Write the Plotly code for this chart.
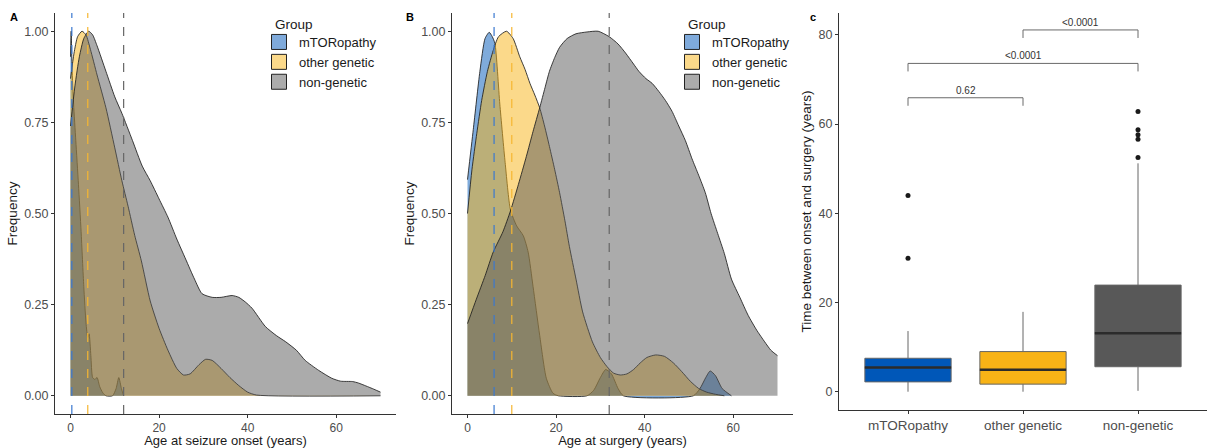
import plotly.graph_objects as go

# ---------------- DATA ----------------
groups = ["mTORopathy", "other genetic", "non-genetic"]

# Panel A: scaled density of age at seizure onset
onset_mtor_x = [0, 0.15, 0.35, 0.7, 1.2, 1.8, 2.4, 3.0, 3.5, 3.9, 4.2, 4.6, 5.0, 5.5, 6.0, 6.6, 7.3, 8.0, 9.5, 10.3, 10.9, 11.5, 12.0]
onset_mtor_y = [0.93, 1.0, 0.9, 0.8, 0.7, 0.58, 0.45, 0.3, 0.2, 0.16, 0.17, 0.11, 0.05, 0.045, 0.05, 0.025, 0.008, 0, 0, 0.02, 0.05, 0.02, 0]
onset_other_x = [0, 0.8, 1.6, 2.6, 3.5, 4.5, 6, 8, 10, 11.6, 13, 14.5, 16, 18, 20, 22, 24, 25.5, 27, 29, 30.5, 32, 34, 36, 38, 40, 42, 70]
onset_other_y = [0.87, 0.94, 0.985, 1.0, 0.99, 0.95, 0.88, 0.79, 0.68, 0.59, 0.52, 0.44, 0.37, 0.26, 0.185, 0.125, 0.075, 0.057, 0.06, 0.085, 0.1, 0.097, 0.075, 0.05, 0.028, 0.01, 0.002, 0]
onset_non_x = [0, 1, 2, 3, 4.1, 5, 6, 8, 10, 11.6, 14, 16.2, 18, 20, 22, 24, 26, 28, 29.7, 32, 34, 36.5, 38, 39.5, 41, 44, 46.5, 48.6, 51, 53, 56, 59, 61, 63.7, 65, 66.7, 68.5, 70]
onset_non_y = [0.74, 0.85, 0.93, 0.98, 1.0, 0.99, 0.96, 0.89, 0.82, 0.775, 0.70, 0.63, 0.59, 0.54, 0.49, 0.43, 0.375, 0.32, 0.28, 0.27, 0.27, 0.275, 0.27, 0.257, 0.24, 0.19, 0.165, 0.148, 0.125, 0.097, 0.07, 0.048, 0.04, 0.039, 0.035, 0.027, 0.018, 0.01]
onset_medians = [0.3, 3.9, 12.0]

# Panel B: scaled density of age at surgery
surg_mtor_x = [0, 1.3, 2.8, 3.96, 4.9, 5.6, 6.2, 7.3, 8.5, 9.7, 11.1, 12.6, 13.7, 14.8, 16.3, 17.8, 19.3, 20.5, 27, 28.5, 30, 31.2, 32.5, 34, 35.2, 51, 52.5, 53.8, 54.8, 56, 57.5, 59.6]
surg_mtor_y = [0.593, 0.73, 0.89, 0.98, 0.997, 0.985, 0.966, 0.80, 0.64, 0.51, 0.466, 0.439, 0.394, 0.30, 0.166, 0.048, 0.007, 0, 0, 0.015, 0.05, 0.072, 0.06, 0.02, 0, 0, 0.02, 0.05, 0.068, 0.055, 0.02, 0]
surg_other_x = [0, 1, 2.1, 3.2, 4.5, 5.8, 7, 8.8, 10.3, 11.8, 13, 14.1, 15.2, 16.3, 17.4, 18.5, 19.7, 20.8, 22, 23, 24.5, 26, 28.2, 30, 31.5, 33, 34.5, 36, 37.5, 39, 40.5, 42.5, 44.5, 46.5, 48.4, 50.3, 52.2, 54, 56, 58]
surg_other_y = [0.50, 0.62, 0.72, 0.81, 0.89, 0.947, 0.985, 1.0, 0.98, 0.93, 0.895, 0.857, 0.825, 0.79, 0.74, 0.684, 0.62, 0.557, 0.48, 0.41, 0.32, 0.23, 0.148, 0.105, 0.08, 0.062, 0.057, 0.06, 0.072, 0.09, 0.105, 0.112, 0.108, 0.09, 0.066, 0.04, 0.02, 0.01, 0.004, 0]
surg_non_x = [0, 2, 4, 5.8, 8, 9.7, 11.5, 13.3, 14.8, 16.3, 17.5, 18.5, 19.7, 20.8, 22.5, 24.5, 27, 29.5, 32, 34, 35.7, 37.5, 38.7, 40.3, 41.7, 43.2, 44.7, 46.2, 47.7, 49.2, 50.7, 52.2, 53.7, 55, 56.5, 58, 59.6, 61.5, 63.4, 65.3, 67.1, 68.5, 70]
surg_non_y = [0.198, 0.265, 0.33, 0.394, 0.45, 0.507, 0.58, 0.657, 0.725, 0.79, 0.845, 0.89, 0.928, 0.956, 0.98, 0.993, 0.998, 1.0, 0.985, 0.965, 0.94, 0.91, 0.89, 0.87, 0.857, 0.835, 0.81, 0.78, 0.74, 0.70, 0.65, 0.605, 0.557, 0.50, 0.445, 0.39, 0.32, 0.27, 0.22, 0.18, 0.148, 0.125, 0.11]
surg_medians = [6.0, 10.0, 32.0]

# Panel C: time between onset and surgery (box statistics)
box_pos = [1, 2, 3]
box_q1 = [2.2, 1.7, 5.6]
box_median = [5.4, 4.9, 13.1]
box_q3 = [7.5, 9.0, 23.9]
box_low = [0.0, 0.0, 0.2]
box_high = [13.6, 17.9, 51.2]
outliers_x = [1, 1, 3, 3, 3, 3, 3]
outliers_y = [29.9, 44.0, 52.5, 56.6, 57.6, 58.7, 62.8]

# Pairwise comparisons
comp_from = [1, 1, 2]
comp_to = [2, 3, 3]
comp_y = [65.9, 73.6, 81.1]
comp_label = ["0.62", "<0.0001", "<0.0001"]

# ---------------- STYLE ----------------
FONT = "Liberation Sans, Arial, sans-serif"
fill_cols = ["rgba(0,87,184,0.5)", "rgba(248,179,22,0.5)", "rgba(88,88,88,0.5)"]
swatch_cols = ["#7faadb", "#fbd98a", "#acacac"]
vline_cols = ["#3a78d0", "#f6b632", "#666666"]
box_cols = ["#0057B8", "#F8B316", "#585858"]
TICK = "#4d4d4d"
W, H = 1207, 448

fig = go.Figure()

def add_density(xs, ys, color, xa, ya):
    fig.add_trace(go.Scatter(
        x=xs, y=ys, mode="lines", fill="tozeroy", fillcolor=color,
        line=dict(color="rgba(30,30,30,0.85)", width=1, shape="spline", smoothing=0.6),
        showlegend=False, hoverinfo="skip", xaxis=xa, yaxis=ya))

panelA = [(onset_mtor_x, onset_mtor_y), (onset_other_x, onset_other_y), (onset_non_x, onset_non_y)]
panelB = [(surg_mtor_x, surg_mtor_y), (surg_other_x, surg_other_y), (surg_non_x, surg_non_y)]
for i, (xs, ys) in enumerate(panelA):
    add_density(xs, ys, fill_cols[i], "x", "y")
for i, (xs, ys) in enumerate(panelB):
    add_density(xs, ys, fill_cols[i], "x2", "y2")

# legend swatches
for leg in ["legend", "legend2"]:
    for i, g in enumerate(groups):
        fig.add_trace(go.Scatter(
            x=[None], y=[None], mode="markers", name=g, legend=leg,
            marker=dict(symbol="square", size=15, color=swatch_cols[i],
                        line=dict(color="#222", width=1)),
            xaxis="x" if leg == "legend" else "x2",
            yaxis="y" if leg == "legend" else "y2"))

# median dashed lines
shapes = []
for meds, xr, yr in [(onset_medians, "x", "y domain"), (surg_medians, "x2", "y2 domain")]:
    for i, m in enumerate(meds):
        shapes.append(dict(type="line", xref=xr, yref=yr, x0=m, x1=m, y0=0, y1=1,
                           line=dict(color=vline_cols[i], width=1.2, dash="dash"), layer="above"))

# boxes
half_w = 0.375
for i, g in enumerate(groups):
    fig.add_trace(go.Box(
        x=[box_pos[i]], q1=[box_q1[i]], median=[box_median[i]], q3=[box_q3[i]],
        lowerfence=[box_low[i]], upperfence=[box_high[i]],
        fillcolor=box_cols[i], line=dict(color="#666666", width=1),
        width=2 * half_w, whiskerwidth=0, boxpoints=False,
        showlegend=False, hoverinfo="skip", xaxis="x3", yaxis="y3"))
    fig.add_trace(go.Scatter(
        x=[box_pos[i] - half_w, box_pos[i] + half_w], y=[box_median[i], box_median[i]],
        mode="lines", line=dict(color="#2b2b2b", width=2.5),
        showlegend=False, hoverinfo="skip", xaxis="x3", yaxis="y3"))

fig.add_trace(go.Scatter(
    x=outliers_x, y=outliers_y, mode="markers",
    marker=dict(color="#1a1a1a", size=5), showlegend=False, hoverinfo="skip",
    xaxis="x3", yaxis="y3"))

annotations = []
leg_drop = 1.8
for a, b, yv, lab in zip(comp_from, comp_to, comp_y, comp_label):
    fig.add_trace(go.Scatter(
        x=[a, a, b, b], y=[yv - leg_drop, yv, yv, yv - leg_drop], mode="lines",
        line=dict(color="#6a6a6a", width=1), showlegend=False, hoverinfo="skip",
        xaxis="x3", yaxis="y3"))
    annotations.append(dict(x=(a + b) / 2, y=yv, xref="x3", yref="y3", text=lab,
                            showarrow=False, yanchor="bottom", yshift=0,
                            font=dict(size=10, color="#333", family=FONT)))

# panel tags
for txt, px, py in [("A", 14, 17), ("B", 410, 17), ("c", 813, 17)]:
    annotations.append(dict(x=px / W, y=1 - py / H, xref="paper", yref="paper",
                            xanchor="center", yanchor="middle",
                            text="<b>" + txt + "</b>", showarrow=False,
                            font=dict(size=11, color="#000", family=FONT)))

# legend titles
for px in [273, 686]:
    annotations.append(dict(x=px / W, y=1 - 25 / H, xref="paper", yref="paper",
                            xanchor="left", yanchor="middle", text="Group", showarrow=False,
                            font=dict(size=13.5, color="#1a1a1a", family=FONT)))

def xax(domain, rng, title, tsize=12, **kw):
    d = dict(domain=domain, range=rng, showline=True, linecolor="#333", linewidth=1,
             ticks="outside", ticklen=3, tickcolor="#333", showgrid=False, zeroline=False,
             tickfont=dict(size=tsize, color=TICK, family=FONT),
             title=dict(text=title, font=dict(size=13, color="#1a1a1a", family=FONT), standoff=2),
             automargin=False)
    d.update(kw)
    return d

def yax(domain, rng, title, anchor, **kw):
    d = dict(domain=domain, range=rng, showline=True, linecolor="#333", linewidth=1,
             ticks="outside", ticklen=3, tickcolor="#333", showgrid=False, zeroline=False,
             tickfont=dict(size=12.5, color=TICK, family=FONT), anchor=anchor,
             title=dict(text=title, font=dict(size=13.5, color="#1a1a1a", family=FONT), standoff=3),
             automargin=False)
    d.update(kw)
    return d

yA_dom = [34 / H, 1 - 13 / H]
yC_dom = [38 / H, 1 - 13 / H]
freq_ticks = [0, 0.25, 0.5, 0.75, 1.0]
freq_text = ["0.00", "0.25", "0.50", "0.75", "1.00"]

legend_style = dict(xanchor="left", yanchor="top", bgcolor="rgba(0,0,0,0)", tracegroupgap=0,
                    font=dict(size=13, color="#1a1a1a", family=FONT))

fig.update_layout(
    width=W, height=H,
    margin=dict(l=0, r=0, t=0, b=0),
    plot_bgcolor="white", paper_bgcolor="white",
    font=dict(family=FONT),
    xaxis=xax([55 / W, 396 / W], [-3.5, 73.5], "Age at seizure onset (years)",
              tickvals=[0, 20, 40, 60], anchor="y"),
    yaxis=yax(yA_dom, [-0.05, 1.05], "Frequency", "x", tickvals=freq_ticks, ticktext=freq_text),
    xaxis2=xax([452 / W, 793 / W], [-3.5, 73.5], "Age at surgery (years)",
               tickvals=[0, 20, 40, 60], anchor="y2"),
    yaxis2=yax(yA_dom, [-0.05, 1.05], "Frequency", "x2", tickvals=freq_ticks, ticktext=freq_text),
    xaxis3=xax([839 / W, 1.0], [0.4, 3.6], "", tsize=13.5, tickvals=box_pos, ticktext=groups, anchor="y3"),
    yaxis3=yax(yC_dom, [-4.1, 84.9], "Time between onset and surgery (years)", "x3",
               tickvals=[0, 20, 40, 60, 80]),
    legend=dict(x=259 / W, y=1 - 27 / H, **legend_style),
    legend2=dict(x=672 / W, y=1 - 27 / H, **legend_style),
    shapes=shapes,
    annotations=annotations,
)

fig.write_html("out.html", config={"displayModeBar": False},
               post_script="document.body.style.margin='0';document.body.style.padding='0';")
